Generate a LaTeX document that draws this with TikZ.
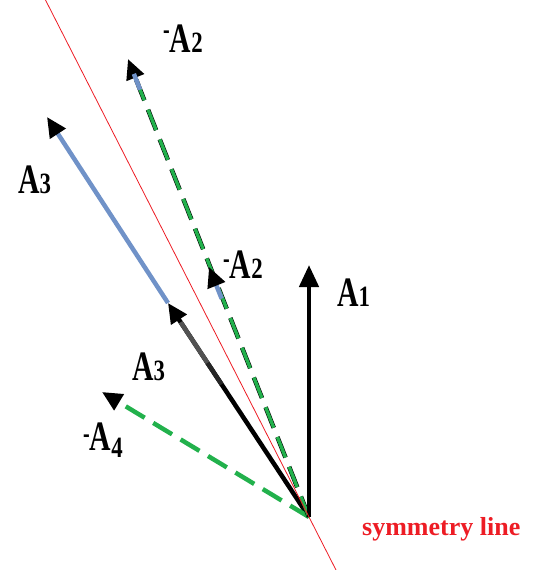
\documentclass[tikz,border=0pt]{standalone}
\usepackage{fontspec}
\setmainfont{Liberation Serif}
\usetikzlibrary{arrows.meta,calc}
\definecolor{vgreen}{RGB}{34,177,76}
\definecolor{vblue}{RGB}{112,146,200}
\definecolor{vred}{RGB}{237,28,36}
\newcommand{\dg}[1]{\scalebox{1.2}[1]{\fontsize{19}{19}\selectfont #1}}
\newcommand{\bigA}{\scalebox{1.1}[1]{\fontsize{27}{27}\selectfont A}}
\newcommand{\Alab}[1]{\scalebox{1}[1.55]{\bfseries\bigA\dg{#1}}}
\newcommand{\mAlab}[3]{\scalebox{1}[1.55]{\bfseries\raisebox{#1}{\fontsize{20}{20}\selectfont -}\bigA\raisebox{#3}{\dg{#2}}}}
\begin{document}
\begin{tikzpicture}[x=1pt,y=1pt,
  vec/.style={line width=4.5pt},
  tip/.style={-{Triangle[length=20pt,width=18pt,color=black]}},
  dsh/.style={dash pattern=on 22pt off 10pt},
  lab/.style={inner sep=0pt, anchor=base west}]
\useasboundingbox (0,0) rectangle (534,-570);
\coordinate (O) at (309,-517);
\coordinate (tA1) at (309,-265);
\coordinate (tA2) at (128,-59);
\coordinate (tA2s) at (209,-267);
\coordinate (tA3) at (47,-117);
\coordinate (tA3s) at (168,-303);
\coordinate (tA4) at (102,-392);
\coordinate (rT) at (45.5,0);
\coordinate (rB) at (336,-570);
% A3 (blue continuation and black part)
\draw[vec, vblue, tip] (tA3s) -- (tA3);
\draw[vec, black, tip] (O) -- (tA3s);
\draw[vec, black!85] ($(O)!0.62!(tA3s)$) -- ($(O)!0.72!(tA3s)$);
\draw[vec, black!68] ($(O)!0.72!(tA3s)$) -- ($(O)!0.91!(tA3s)$);
% -A4
\draw[vec, vgreen, dsh, tip] (O) -- (tA4);
% -A2 (long and short)
\draw[vec, black, dsh, tip] (O) -- (tA2);
\draw[line width=3.4pt, vgreen, dsh, shorten >=20pt, xshift=1.3pt] (O) -- (tA2);
\draw[vec, vblue] ($(tA2)!16pt!(O)$) -- ($(tA2)!33pt!(O)$);
\draw[vec, vblue, tip] ($(tA2s)!34pt!(O)$) -- (tA2s);
% A1
\draw[vec, black, -{Triangle[length=22pt,width=19pt]}] (O) -- (tA1);
% symmetry line
\draw[vred, line width=0.8pt] (rT) -- (rB);
% labels
\node[lab] (lA2) at (163,-52) {\mAlab{8.3pt}{2}{0pt}};
\node[lab] (lA2s) at (223,-278) {\mAlab{6.3pt}{2}{0pt}};
\node[lab] (lA1) at (337,-306) {\Alab{1}};
\node[lab] (lA3) at (18,-193) {\Alab{3}};
\node[lab] (lA3s) at (132,-380) {\Alab{3}};
\node[lab] (lA4) at (83,-450) {\mAlab{4.4pt}{4}{-5pt}};
\node[lab, text=vred] (sym) at (362,-535) {\bfseries\fontsize{26}{26}\selectfont symmetry line};
\end{tikzpicture}
\end{document}
